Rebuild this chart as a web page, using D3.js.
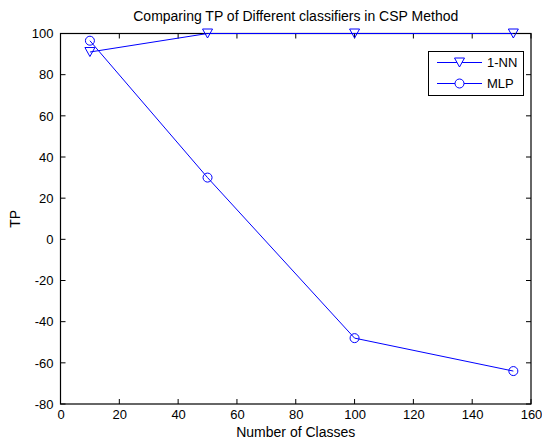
<!DOCTYPE html>
<html>
<head>
<meta charset="utf-8">
<script src="https://cdn.jsdelivr.net/npm/d3@7"></script>
<style>
  html, body { margin: 0; padding: 0; background: #fff; }
  svg { display: block; }
  text { font-family: "Liberation Sans", Arial, sans-serif; }
</style>
</head>
<body>
<svg id="chart" width="542" height="439"></svg>
<script>
// ---- data ----
const classes = [10, 50, 100, 154];
const nnValues = [91, 100, 100, 100];
const mlpValues = [96.5, 30, -48, -64];
const seriesNames = ["1-NN", "MLP"];
const xTicks = [0, 20, 40, 60, 80, 100, 120, 140, 160];
const yTicks = [-80, -60, -40, -20, 0, 20, 40, 60, 80, 100];
const titleText = "Comparing TP of Different classifiers in CSP Method";
const xLabel = "Number of Classes";
const yLabel = "TP";

(function () {
// ---- layout ----
const pL = 60.5, pR = 531, pT = 33.5, pB = 404;
const tickFont = 13, labelFont = 14;
const blue = "#0000ff";

const svg = d3.select("#chart");
const x = d3.scaleLinear().domain([0, 160]).range([pL, pR]);
const y = d3.scaleLinear().domain([-80, 100]).range([pB, pT]);

const tickLen = 5;
const fmt = d => String(d);
const axB = d3.axisBottom(x).tickValues(xTicks).tickFormat(fmt).tickSize(0).tickPadding(6);
const axL = d3.axisLeft(y).tickValues(yTicks).tickFormat(fmt).tickSize(0).tickPadding(7);

const gx = svg.append("g").attr("transform", `translate(0,${pB})`).call(axB);
const gy = svg.append("g").attr("transform", `translate(${pL},0)`).call(axL);
[gx, gy].forEach(g => {
  g.select(".domain").remove();
  g.selectAll("text").attr("font-size", tickFont).attr("fill", "#000")
    .attr("font-family", "Liberation Sans, Arial, sans-serif");
});

// inward ticks on all four sides
const ticks = svg.append("g").attr("stroke", "#000").attr("stroke-width", 1);
xTicks.forEach(v => {
  ticks.append("line").attr("x1", x(v)).attr("x2", x(v)).attr("y1", pB).attr("y2", pB - tickLen);
  ticks.append("line").attr("x1", x(v)).attr("x2", x(v)).attr("y1", pT).attr("y2", pT + tickLen);
});
yTicks.forEach(v => {
  ticks.append("line").attr("x1", pL).attr("x2", pL + tickLen).attr("y1", y(v)).attr("y2", y(v));
  ticks.append("line").attr("x1", pR).attr("x2", pR - tickLen).attr("y1", y(v)).attr("y2", y(v));
});

svg.append("rect").attr("x", pL).attr("y", pT)
  .attr("width", pR - pL).attr("height", pB - pT)
  .attr("fill", "none").attr("stroke", "#000").attr("stroke-width", 1.2);

// series
const line = d3.line().x(d => x(d[0])).y(d => y(d[1]));
const nnData = classes.map((c, i) => [c, nnValues[i]]);
const mlpData = classes.map((c, i) => [c, mlpValues[i]]);

function triPath(cx, cy) {
  const w = 5, h = 4.5;
  return `M${cx - w},${cy - h}L${cx + w},${cy - h}L${cx},${cy + h}Z`;
}

svg.append("path").datum(nnData).attr("d", line)
  .attr("fill", "none").attr("stroke", blue).attr("stroke-width", 1);
svg.append("path").datum(mlpData).attr("d", line)
  .attr("fill", "none").attr("stroke", blue).attr("stroke-width", 1);

svg.selectAll(".tri").data(nnData).enter().append("path")
  .attr("d", d => triPath(x(d[0]), y(d[1])))
  .attr("fill", "none").attr("stroke", blue).attr("stroke-width", 1);
svg.selectAll(".circ").data(mlpData).enter().append("circle")
  .attr("cx", d => x(d[0])).attr("cy", d => y(d[1])).attr("r", 4.5)
  .attr("fill", "none").attr("stroke", blue).attr("stroke-width", 1);

// title and labels
svg.append("text").attr("x", (pL + pR) / 2).attr("y", 20.5)
  .attr("text-anchor", "middle").attr("font-size", labelFont).text(titleText);
svg.append("text").attr("x", (pL + pR) / 2).attr("y", 437)
  .attr("text-anchor", "middle").attr("font-size", labelFont).text(xLabel);
svg.append("text").attr("transform", `translate(20,${(pT + pB) / 2}) rotate(-90)`)
  .attr("text-anchor", "middle").attr("font-size", labelFont).text(yLabel);

// legend
const lg = svg.append("g");
lg.append("rect").attr("x", 428.5).attr("y", 51.5).attr("width", 95).attr("height", 44)
  .attr("fill", "#fff").attr("stroke", "#000").attr("stroke-width", 1);
const legRows = [62.5, 83.5];
seriesNames.forEach((name, i) => {
  const yy = legRows[i];
  lg.append("line").attr("x1", 437).attr("x2", 482).attr("y1", yy).attr("y2", yy)
    .attr("stroke", blue).attr("stroke-width", 1);
  if (i === 0) {
    lg.append("path").attr("d", triPath(459.5, yy)).attr("fill", "#fff").attr("stroke", blue);
  } else {
    lg.append("circle").attr("cx", 459.5).attr("cy", yy).attr("r", 4.5).attr("fill", "#fff").attr("stroke", blue);
  }
  lg.append("text").attr("x", 487).attr("y", yy).attr("dy", "0.35em")
    .attr("font-size", tickFont).text(name);
});
})();
</script>
</body>
</html>
